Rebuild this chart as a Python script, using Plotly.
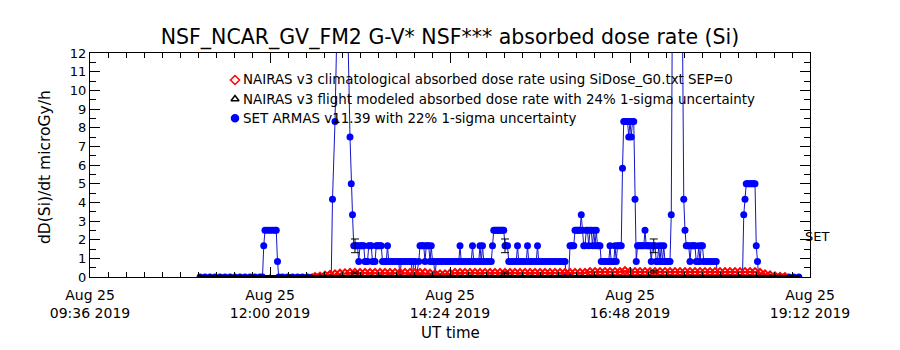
import plotly.graph_objects as go
import pandas as pd

DAY = "2019-08-25 "
FONT = "DejaVu Sans"

# ---- SET ARMAS v11.39 dose rate (microGy/h) ----
set_time = [
    "11:04", "11:08", "11:12", "11:16", "11:20", "11:24", "11:28", "11:32", "11:36", "11:40", "11:44", "11:48", "11:52", "11:54",
    "11:55", "11:56", "11:58", "12:00", "12:02", "12:04", "12:05", "12:06",
    "12:07", "12:10", "12:14", "12:18", "12:22", "12:26", "12:30", "12:34", "12:38", "12:42", "12:46", "12:49",
    "12:50", "12:52", "12:54", "12:56", "12:58", "13:00", "13:02", "13:04", "13:05", "13:06",
    "13:07", "13:08", "13:09", "13:10", "13:11", "13:12", "13:13", "13:14", "13:15", "13:16", "13:17", "13:18",
    "13:19", "13:20", "13:21", "13:22", "13:23", "13:24", "13:25", "13:26", "13:27", "13:28", "13:29", "13:30",
    "13:32", "13:33", "13:34", "13:35", "13:37", "13:39", "13:41", "13:43", "13:44", "13:45", "13:47", "13:49",
    "13:51", "13:53", "13:54", "13:55", "13:56", "13:57", "13:59",
    "14:00", "14:01", "14:02", "14:03", "14:04", "14:05", "14:06", "14:07", "14:08", "14:09", "14:10", "14:11",
    "14:12", "14:13", "14:15", "14:17", "14:19", "14:21", "14:23", "14:25", "14:27", "14:29", "14:31", "14:32",
    "14:33", "14:35", "14:37", "14:39", "14:41", "14:42", "14:43", "14:45", "14:47", "14:48", "14:49", "14:50",
    "14:51", "14:53", "14:55", "14:57", "14:58",
    "14:59", "15:00", "15:01", "15:02", "15:03", "15:04", "15:05", "15:06", "15:07",
    "15:08", "15:09", "15:10", "15:11", "15:13", "15:15", "15:17", "15:18", "15:19", "15:21", "15:23", "15:25",
    "15:26", "15:27", "15:29", "15:31", "15:33", "15:34", "15:35", "15:37", "15:39", "15:41", "15:43", "15:45",
    "15:47", "15:49", "15:51", "15:53", "15:55", "15:56", "15:57", "15:59",
    "16:00", "16:01", "16:02", "16:03", "16:04", "16:05", "16:06", "16:07", "16:08", "16:09", "16:10", "16:11",
    "16:12", "16:13", "16:14", "16:15", "16:16", "16:17", "16:18", "16:19", "16:20", "16:21", "16:22", "16:23",
    "16:24", "16:25", "16:27", "16:29", "16:31", "16:32", "16:33", "16:35", "16:36", "16:37", "16:38", "16:39",
    "16:40", "16:41",
    "16:42", "16:43", "16:44", "16:45", "16:46", "16:47", "16:48", "16:49", "16:50", "16:51", "16:52", "16:53",
    "16:54", "16:55", "16:56", "16:57", "16:58", "16:59", "17:00", "17:01", "17:02", "17:03", "17:04", "17:05",
    "17:06", "17:07", "17:08", "17:09", "17:10", "17:11", "17:12", "17:13", "17:14", "17:15", "17:16", "17:17",
    "17:18", "17:19", "17:20",
    "17:21", "17:22", "17:24", "17:26", "17:28", "17:30", "17:31", "17:32",
    "17:33", "17:34", "17:35", "17:36", "17:37", "17:38", "17:39", "17:40", "17:41", "17:42", "17:43", "17:44",
    "17:45", "17:46", "17:47", "17:49", "17:51", "17:53", "17:55", "17:57", "17:58",
    "18:02", "18:06", "18:10", "18:14", "18:18",
    "18:19", "18:20", "18:21", "18:22", "18:23", "18:24", "18:25", "18:26", "18:27", "18:28", "18:29", "18:30",
    "18:31", "18:35", "18:39", "18:43", "18:47", "18:51", "18:55", "18:59", "19:03",
]
set_dose = [
    0, 0, 0, 0, 0, 0, 0, 0, 0, 0, 0, 0, 0, 0,
    1.67, 2.5, 2.5, 2.5, 2.5, 2.5, 2.5, 0.83,
    0, 0, 0, 0, 0, 0, 0, 0, 0, 0, 0, 0,
    4.17, 8.33, 15.0, 20.0, 22.5, 19.2, 14.2, 7.5, 5.0, 3.33,
    1.67, 1.67, 1.67, 1.67, 0.83, 1.67, 1.67, 1.67, 1.67, 0.83, 0.83, 0.83,
    1.67, 1.67, 1.67, 0.83, 0.83, 0.83, 1.67, 1.67, 1.67, 1.67, 1.67, 0.83,
    0.83, 0.83, 1.67, 0.83, 0.83, 0.83, 0.83, 0.83, 0, 0.83, 0.83, 0.83,
    0.83, 0.83, 0, 0.83, 0.83, 0, 0.83,
    1.67, 1.67, 1.67, 1.67, 0.83, 1.67, 1.67, 1.67, 0.83, 1.67, 0.83, 0.83,
    0, 0.83, 0.83, 0.83, 0.83, 0.83, 0.83, 0.83, 0.83, 0.83, 0.83, 1.67,
    0.83, 0.83, 0.83, 0.83, 0.83, 1.67, 0.83, 0.83, 0.83, 1.67, 0.83, 1.67,
    0.83, 0.83, 0.83, 0.83, 1.67,
    2.5, 2.5, 2.5, 2.5, 2.5, 2.5, 2.5, 2.5, 2.5,
    1.67, 1.67, 1.67, 0.83, 0.83, 0.83, 0.83, 1.67, 0.83, 0.83, 0.83, 0.83,
    1.67, 0.83, 0.83, 0.83, 0.83, 1.67, 0.83, 0.83, 0.83, 0.83, 0.83, 0.83,
    0.83, 0.83, 0.83, 0.83, 0.83, 0.83, 0, 0,
    1.67, 1.67, 1.67, 1.67, 2.5, 2.5, 2.5, 2.5, 2.5, 3.33, 2.5, 1.67,
    1.67, 2.5, 2.5, 1.67, 2.5, 2.5, 1.67, 2.5, 1.67, 2.5, 1.67, 1.67,
    1.67, 0.83, 0.83, 0.83, 0.83, 1.67, 0.83, 0.83, 1.67, 0.83, 1.67, 1.67,
    1.67, 1.67,
    5.83, 8.33, 8.33, 8.33, 8.33, 7.5, 8.33, 7.5, 8.33, 8.33, 4.17, 0.83,
    1.67, 1.67, 1.67, 1.67, 1.67, 1.67, 2.5, 1.67, 1.67, 1.67, 1.67, 0.83,
    1.67, 1.67, 1.67, 0.83, 0.83, 1.67, 0.83, 1.67, 0.83, 1.67, 0.83, 0.83,
    0.83, 0.83, 0.83,
    3.33, 15.8, 24.2, 28.3, 21.7, 13.3, 4.17, 2.5,
    1.67, 1.67, 1.67, 0.83, 1.67, 1.67, 1.67, 1.67, 0.83, 0.83, 1.67, 0.83,
    1.67, 1.67, 0.83, 0.83, 0.83, 0.83, 0.83, 0.83, 0,
    0, 0, 0, 0, 0,
    3.33, 4.17, 5.0, 5.0, 5.0, 5.0, 5.0, 5.0, 5.0, 5.0, 1.67, 0.83,
    0, 0, 0, 0, 0, 0, 0, 0, 0,
]

# ---- NAIRAS v3 climatological absorbed dose rate (4-min samples, 12:36 - 18:52) ----
clim_start, clim_end = "12:36", "18:52"
clim_dose = [
    0.0,
    0.03, 0.08, 0.12, 0.15, 0.18, 0.20, 0.22,
    0.22, 0.22, 0.22, 0.22, 0.22, 0.22, 0.22, 0.22, 0.22, 0.22, 0.22, 0.22, 0.22, 0.22, 0.22,
    0.18, 0.15, 0.15, 0.15, 0.18,
    0.22, 0.22, 0.22, 0.22, 0.22, 0.22, 0.22, 0.22, 0.22, 0.22, 0.22, 0.22, 0.22, 0.22,
    0.22, 0.22, 0.22, 0.22, 0.22, 0.22, 0.22, 0.22, 0.22, 0.22, 0.22, 0.22, 0.22,
    0.27, 0.27, 0.27, 0.27, 0.27, 0.27, 0.27, 0.32, 0.27, 0.27, 0.27, 0.27, 0.27, 0.27,
    0.27, 0.27, 0.27, 0.27, 0.27, 0.27, 0.27, 0.27, 0.27, 0.27, 0.27, 0.27, 0.27, 0.27,
    0.27, 0.27, 0.27, 0.27, 0.27, 0.27,
    0.22, 0.15, 0.09, 0.04, 0.01,
    0.0,
]

# ---- NAIRAS v3 flight modeled absorbed dose rate (8-min samples, 11:04 - 19:04) ----
flight_start, flight_end = "11:04", "19:04"
flight_dose = [
    0, 0, 0, 0, 0, 0, 0, 0, 0, 0, 0, 0, 0, 0, 0, 0, 0, 0, 0, 0,
    0, 0, 0, 0, 0, 0, 0, 0, 0, 0, 0, 0, 0, 0, 0, 0, 0, 0, 0, 0,
    0, 0, 0, 0, 0, 0, 0, 0, 0, 0, 0, 0, 0, 0, 0, 0, 0, 0, 0, 0, 0,
]

# ---- error bar samples ----
err_time = ["13:08", "15:08", "17:07"]
err_set = [1.67, 1.67, 1.67]
err_clim = [0.22, 0.22, 0.27]
SET_SIGMA = 22
NAIRAS_SIGMA = 24

legend_labels = [
    "NAIRAS v3 climatological absorbed dose rate using SiDose_G0.txt SEP=0",
    "NAIRAS v3 flight modeled absorbed dose rate with 24% 1-sigma uncertainty",
    "SET ARMAS v11.39 with 22% 1-sigma uncertainty",
]

def ts(lst):
    return [DAY + t for t in lst]

clim_time = pd.date_range(DAY + clim_start, DAY + clim_end, freq="4min")
flight_time = pd.date_range(DAY + flight_start, DAY + flight_end, freq="8min")

BLUE = "rgb(0,0,255)"
fig = go.Figure()

fig.add_trace(go.Scatter(
    x=ts(set_time), y=set_dose, mode="lines+markers",
    line=dict(color="rgb(20,20,200)", width=1),
    marker=dict(color=BLUE, size=7, symbol="circle"),
    showlegend=False))

fig.add_trace(go.Scatter(
    x=clim_time, y=clim_dose, mode="lines+markers",
    line=dict(color="red", width=2),
    marker=dict(color="red", size=6, symbol="diamond-open", line=dict(width=2)),
    showlegend=False))

fig.add_trace(go.Scatter(
    x=flight_time, y=flight_dose, mode="lines+markers",
    line=dict(color="black", width=4),
    marker=dict(color="black", size=5, symbol="triangle-up-open"),
    showlegend=False))

for vals, sig in ((err_set, SET_SIGMA), (err_clim, NAIRAS_SIGMA)):
    fig.add_trace(go.Scatter(
        x=ts(err_time), y=vals, mode="markers",
        marker=dict(size=1, color="rgba(0,0,0,0)"),
        error_y=dict(type="percent", value=sig, color="black", thickness=1, width=4),
        showlegend=False))

# legend glyphs on an overlay axis spanning the plot area
leg_y = [0.8795, 0.7946, 0.7085]
leg_syms = [("diamond-open", "red", 7), ("triangle-up-open", "black", 7), ("circle", BLUE, 7)]
for yy, (sym, col, sz) in zip(leg_y, leg_syms):
    fig.add_trace(go.Scatter(
        x=[0.2014], y=[yy], xaxis="x2", yaxis="y2", mode="markers",
        marker=dict(symbol=sym, color=col, size=sz, line=dict(width=1.5, color=col)),
        showlegend=False, hoverinfo="skip"))

annotations = []
for yy, txt in zip(leg_y, legend_labels):
    annotations.append(dict(x=0.2097, y=yy, xref="paper", yref="paper", text=txt,
                            xanchor="left", yanchor="middle", showarrow=False,
                            font=dict(family=FONT, size=13.4, color="black")))
annotations.append(dict(x=0.5, y=-0.25, xref="paper", yref="paper", text="UT time",
                        xanchor="center", yanchor="middle", showarrow=False,
                        font=dict(family=FONT, size=15, color="black")))
annotations.append(dict(x=-0.0625, y=0.491, xref="paper", yref="paper", text="dD(Si)/dt microGy/h",
                        textangle=-90, xanchor="center", yanchor="middle", showarrow=False,
                        font=dict(family=FONT, size=15.5, color="black")))
annotations.append(dict(x=0.990, y=0.179, xref="paper", yref="paper", text="SET",
                        xanchor="left", yanchor="middle", showarrow=False,
                        font=dict(family=FONT, size=13, color="black")))

axis_common = dict(showline=True, linecolor="black", linewidth=1, mirror="allticks",
                   showgrid=False, zeroline=False, ticks="inside", tickcolor="black")

fig.update_layout(
    width=900, height=350,
    margin=dict(l=90, r=90, t=53, b=73),
    paper_bgcolor="white", plot_bgcolor="white",
    title=dict(text="NSF_NCAR_GV_FM2 G-V* NSF*** absorbed dose rate (Si)",
               x=0.5, xanchor="center", y=1 - 37 / 350, yref="container", yanchor="middle",
               font=dict(family=FONT, size=20.5, color="black")),
    xaxis=dict(type="date", range=[DAY + "09:36", DAY + "19:12"],
               tick0=DAY + "09:36", dtick=144 * 60000,
               tickformat="%b %d<br>%H:%M %Y", ticklen=10, ticklabelstandoff=5,
               tickfont=dict(family=FONT, size=14, color="black"),
               minor=dict(tick0=DAY + "09:36", dtick=14.4 * 60000, ticks="inside",
                          ticklen=5, tickcolor="black", showgrid=False),
               **axis_common),
    yaxis=dict(range=[0, 12], tick0=0, dtick=1, ticklen=10,
               tickfont=dict(family=FONT, size=13, color="black"),
               minor=dict(dtick=0.5, ticks="inside", ticklen=6, tickcolor="black", showgrid=False),
               **axis_common),
    xaxis2=dict(overlaying="x", anchor="y2", range=[0, 1], visible=False, fixedrange=True),
    yaxis2=dict(overlaying="y", anchor="x2", range=[0, 1], visible=False, fixedrange=True),
    annotations=annotations,
    showlegend=False,
)

fig.write_html("out.html")
